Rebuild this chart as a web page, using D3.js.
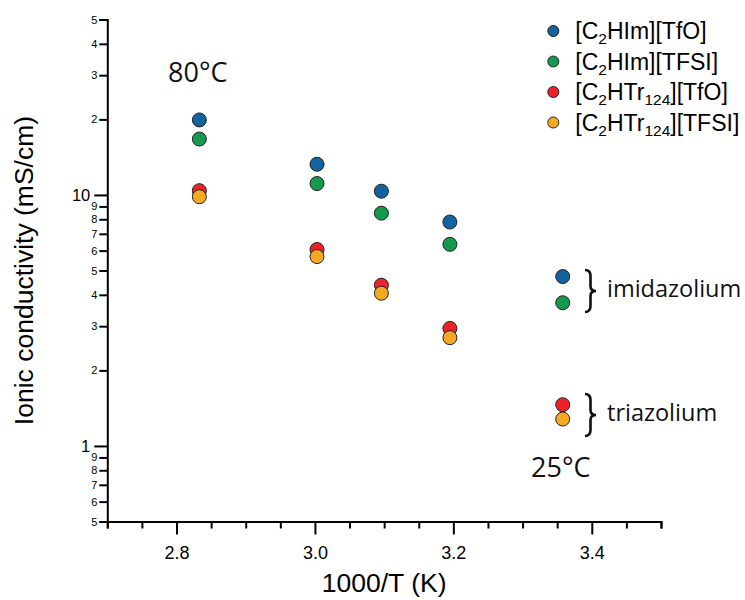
<!DOCTYPE html>
<html>
<head>
<meta charset="utf-8">
<script src="https://cdn.jsdelivr.net/npm/d3@7"></script>
<style>
  html, body { margin: 0; padding: 0; background: #fff; }
  svg { display: block; }
</style>
</head>
<body>
<svg id="chart" width="745" height="600"></svg>
<script>
// Inverse temperature (1000/T, K^-1) of each measurement
const invT = [2.833, 3.003, 3.096, 3.195, 3.358];

// Ionic conductivity (mS/cm) for each salt
const imTfO   = [19.9, 13.25, 10.35, 7.80, 4.73];
const imTFSI  = [16.7, 11.1, 8.46, 6.36, 3.72];
const trTfO   = [10.4, 6.06, 4.37, 2.94, 1.46];
const trTFSI  = [9.84, 5.68, 4.06, 2.70, 1.28];

// Legend entries: [main, subscript, main, subscript, main]
const seriesNames = [
  ["[C", "2", "HIm][TfO]"],
  ["[C", "2", "HIm][TFSI]"],
  ["[C", "2", "HTr", "124", "][TfO]"],
  ["[C", "2", "HTr", "124", "][TFSI]"]
];
const seriesValues = [imTfO, imTFSI, trTfO, trTFSI];
const seriesColors = ["#13639f", "#149a4e", "#ee2128", "#f7a823"];

// Axis ticks
const xMajorTicks = [2.8, 3.0, 3.2, 3.4];
const xMinorTicks = [2.7, 2.75, 2.85, 2.9, 2.95, 3.05, 3.1, 3.15, 3.25, 3.3, 3.35, 3.45, 3.5];
const yMajorTicks = [1, 10];
const yMinorTicks = [0.5, 0.6, 0.7, 0.8, 0.9, 2, 3, 4, 5, 6, 7, 8, 9, 20, 30, 40, 50];

const svg = d3.select("#chart");
const m = { left: 107.3, top: 19.5, right: 84, bottom: 78.5 };
const W = 745 - m.left - m.right;
const H = 600 - m.top - m.bottom;

const x = d3.scaleLinear().domain([2.7, 3.5]).range([0, W]);
const y = d3.scaleLog().domain([0.5, 50]).range([H, 0]);

const g = svg.append("g").attr("transform", `translate(${m.left},${m.top})`);
const axisFont = "'Liberation Sans', Arial, Helvetica, sans-serif";
const noteFont = "'Open Sans', 'Noto Sans', sans-serif";

// ---- x axis ----
const xAxis = g.append("g").attr("transform", `translate(0,${H})`)
  .call(d3.axisBottom(x)
    .tickValues(xMinorTicks.concat(xMajorTicks))
    .tickSizeOuter(0)
    .tickSize(7)
    .tickFormat(d => xMajorTicks.includes(d) ? d3.format(".1f")(d) : ""));
xAxis.select(".domain").attr("stroke", "#000").attr("stroke-width", 2);
xAxis.selectAll(".tick line").attr("stroke", "#000").attr("stroke-width", 2)
  .attr("y2", d => xMajorTicks.includes(d) ? 13 : 7);
xAxis.selectAll(".tick text")
  .attr("y", 25).attr("dy", "0.71em")
  .attr("font-family", axisFont).attr("font-size", 18).attr("fill", "#000");

// ---- y axis ----
// labels show only the leading digit, except the decade marks 1 and 10
const yLabel = d => d === 10 ? "10" : d === 1 ? "1" : String(+(d / Math.pow(10, Math.floor(Math.log10(d)))).toFixed(0));
const yAxis = g.append("g")
  .call(d3.axisLeft(y)
    .tickValues(yMinorTicks.concat(yMajorTicks))
    .tickSizeOuter(0)
    .tickSize(8)
    .tickPadding(2)
    .tickFormat(yLabel));
yAxis.select(".domain").attr("stroke", "#000").attr("stroke-width", 2);
yAxis.selectAll(".tick line").attr("stroke", "#000").attr("stroke-width", 2)
  .attr("x2", d => yMajorTicks.includes(d) ? -13 : -8);
yAxis.selectAll(".tick text")
  .attr("font-family", axisFont).attr("fill", "#000")
  .attr("font-size", d => yMajorTicks.includes(d) ? 16.5 : 11)
  .attr("x", d => yMajorTicks.includes(d) ? -17 : -10);

// ---- axis titles ----
svg.append("text")
  .attr("x", m.left + W / 2).attr("y", 592)
  .attr("text-anchor", "middle")
  .attr("font-family", axisFont).attr("font-size", 26.5)
  .text("1000/T (K)");

svg.append("text")
  .attr("transform", `translate(33,${m.top + H / 2}) rotate(-90)`)
  .attr("text-anchor", "middle")
  .attr("font-family", axisFont).attr("font-size", 26.5)
  .text("Ionic conductivity (mS/cm)");

// ---- data points ----
seriesValues.forEach((vals, i) => {
  g.append("g").selectAll("circle")
    .data(vals.map((v, k) => [invT[k], v]))
    .join("circle")
    .attr("cx", d => x(d[0]))
    .attr("cy", d => y(d[1]))
    .attr("r", 7)
    .attr("fill", seriesColors[i])
    .attr("stroke", "#222")
    .attr("stroke-width", 1);
});

// ---- legend ----
const legend = svg.append("g").attr("transform", "translate(553.3,31)");
seriesNames.forEach((parts, i) => {
  const row = legend.append("g").attr("transform", `translate(0,${i * 30.5})`);
  row.append("circle").attr("r", 5.5)
    .attr("fill", seriesColors[i]).attr("stroke", "#222").attr("stroke-width", 1);
  const t = row.append("text").attr("x", 22).attr("y", 8)
    .attr("font-family", axisFont).attr("font-size", 23);
  parts.forEach((p, k) => {
    const sub = k % 2 === 1;
    t.append("tspan")
      .attr("font-size", sub ? 15.5 : 23)
      .attr("dy", sub ? 5 : (k === 0 ? 0 : -5))
      .text(p);
  });
});

// ---- annotations ----
function note(tx, ty, str) {
  svg.append("text").attr("x", tx).attr("y", ty)
    .attr("font-family", noteFont).attr("font-size", 27).attr("fill", "#111")
    .text(str);
}
note(168, 82, "80°C");
note(531, 477, "25°C");

function brace(bx, y0, y1, w) {
  const q = w / 2, ym = (y0 + y1) / 2;
  return `M${bx},${y0} Q${bx + q},${y0} ${bx + q},${y0 + 6} L${bx + q},${ym - 5} ` +
         `Q${bx + q},${ym} ${bx + w},${ym} Q${bx + q},${ym} ${bx + q},${ym + 5} ` +
         `L${bx + q},${y1 - 6} Q${bx + q},${y1} ${bx},${y1}`;
}
[[270, 312, "imidazolium", 297], [394, 436, "triazolium", 421]].forEach(([a, b, label, base]) => {
  svg.append("path").attr("d", brace(585, a, b, 11))
    .attr("fill", "none").attr("stroke", "#111").attr("stroke-width", 2.6);
  svg.append("text").attr("x", 607).attr("y", base)
    .attr("font-family", noteFont).attr("font-size", 23.5).attr("fill", "#111")
    .text(label);
});
</script>
</body>
</html>
